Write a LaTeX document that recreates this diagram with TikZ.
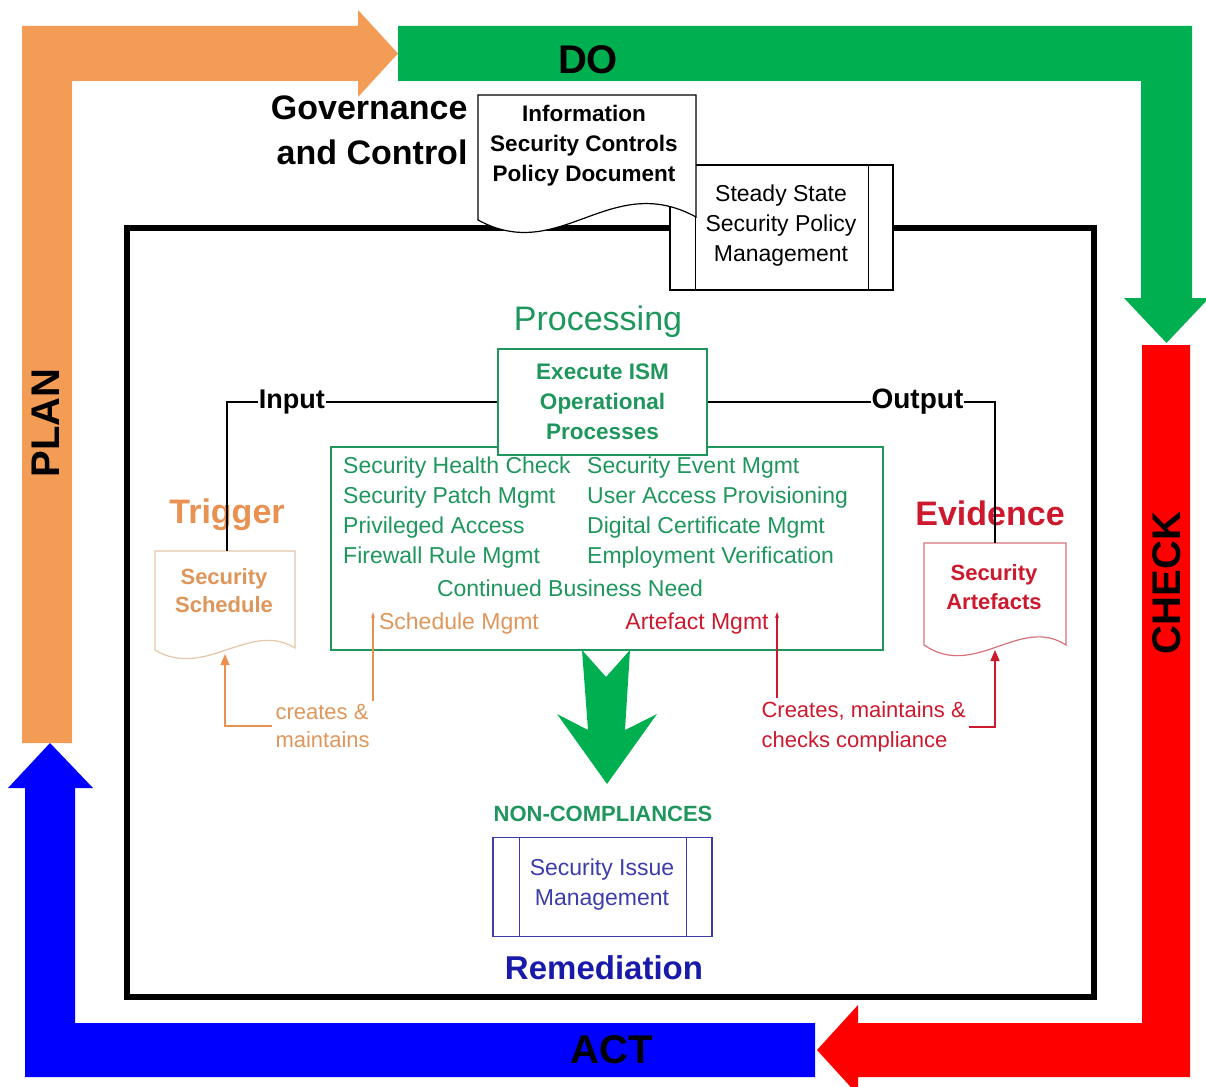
\documentclass[tikz,border=0pt]{standalone}
\usepackage{fontspec}
\setmainfont{Liberation Sans}
\usetikzlibrary{arrows.meta}

\definecolor{planorange}{RGB}{243,156,86}
\definecolor{dogreen}{RGB}{0,176,80}
\definecolor{checkred}{RGB}{255,0,0}
\definecolor{actblue}{RGB}{0,0,255}
\definecolor{procgreen}{RGB}{30,150,92}
\definecolor{trigorange}{RGB}{232,145,80}
\definecolor{schedtan}{RGB}{228,198,168}
\definecolor{schedtext}{RGB}{222,150,90}
\definecolor{evred}{RGB}{205,25,45}
\definecolor{artborder}{RGB}{215,115,120}
\definecolor{remblue}{RGB}{25,25,170}
\definecolor{issueblue}{RGB}{60,60,170}

\begin{document}
\begin{tikzpicture}[x=1pt, y=-1pt,
    pdca/.style={font=\fontsize{40}{40}\selectfont\bfseries},
    head/.style={font=\fontsize{34}{34}\selectfont\bfseries},
    body/.style={font=\fontsize{23}{30}\selectfont},
    item/.style={body, text=procgreen, anchor=west, inner sep=0pt},
    link/.style={line width=1.2pt},
    tip/.style={-{Triangle[length=11pt,width=9pt]}},
    smalltip/.style={-{Stealth[length=6pt,width=4pt]}},
  ]
  \useasboundingbox (0,0) rectangle (1206,1086);

  % PDCA arrows
  \fill[planorange] (22,743) -- (22,26) -- (358,26) -- (358,10) -- (398,53.5)
    -- (358,97) -- (358,81) -- (72,81) -- (72,743) -- cycle;
  \fill[dogreen] (398,26) -- (1192,26) -- (1192,298) -- (1209,298) -- (1166.5,343)
    -- (1124,298) -- (1141,298) -- (1141,81) -- (398,81) -- cycle;
  \fill[checkred] (1142,345) -- (1190,345) -- (1190,1077) -- (858,1077) -- (858,1095)
    -- (817,1050) -- (858,1005) -- (858,1023) -- (1142,1023) -- cycle;
  \fill[actblue] (815,1023) -- (815,1077) -- (25,1077) -- (25,788) -- (8,788)
    -- (50,743) -- (93,788) -- (75,788) -- (75,1023) -- cycle;
  \node[pdca] (do) at (588,60) {DO};
  \node[pdca, rotate=90] (plan) at (46,423) {PLAN};
  \node[pdca, rotate=90] (check) at (1167,583) {CHECK};
  \node[pdca] (act) at (612,1050) {ACT};

  % Frame
  \draw[line width=6pt] (127,228) rectangle (1094,997);

  % Governance
  \node[font=\fontsize{34}{45}\selectfont\bfseries, align=right, anchor=east] (gov) at (471,130) {Governance\\and Control};
  \node[draw, line width=1.2pt, fill=white, minimum width=223pt, minimum height=125pt] (ss) at (781.5,227.5) {};
  \draw[line width=1.2pt] ([xshift=26pt]ss.north west) -- ([xshift=26pt]ss.south west);
  \draw[line width=1.2pt] ([xshift=-25pt]ss.north east) -- ([xshift=-25pt]ss.south east);
  \node[font=\fontsize{23}{30}\selectfont, align=center] (sstext) at (781,226) {Steady State\\Security Policy\\Management};
  \draw[fill=white, line width=1.2pt] (478,220) -- (478,95) -- (696,95) -- (696,217)
    .. controls (610,170) and (560,265) .. (478,220) -- cycle;
  \node[font=\fontsize{22.5}{30}\selectfont\bfseries, align=center] (policy) at (584,146) {Information\\Security Controls\\Policy Document};

  % Processing
  \node[font=\fontsize{34}{34}\selectfont, text=procgreen] (proc) at (598,322) {Processing};
  \node[draw=procgreen, line width=2.5pt, minimum width=552pt, minimum height=203pt] (procs) at (607,548.5) {};
  \node[draw=procgreen, line width=1.5pt, fill=white, minimum width=209pt, minimum height=106pt,
    font=\fontsize{22.5}{30}\selectfont\bfseries, text=procgreen, align=center] (exec) at (602.5,402) {Execute ISM\\Operational\\Processes};
  \node[item] (shc) at (343,468) {Security Health Check};
  \node[item] (spm) at (343,498) {Security Patch Mgmt};
  \node[item] (pa) at (343,528) {Privileged Access};
  \node[item] (frm) at (343,558) {Firewall Rule Mgmt};
  \node[item] (sem) at (587,468) {Security Event Mgmt};
  \node[item] (uap) at (587,498) {User Access Provisioning};
  \node[item] (dcm) at (587,528) {Digital Certificate Mgmt};
  \node[item] (ev) at (587,558) {Employment Verification};
  \node[body, text=procgreen, inner sep=0pt] (cbn) at (570,588) {Continued Business Need};
  \node[body, text=schedtext, inner sep=0pt] (schm) at (459,624) {Schedule Mgmt};
  \node[body, text=evred, inner sep=0pt] (artm) at (697,624) {Artefact Mgmt};
  \coordinate (smtip) at (373,612);
  \coordinate (amtip) at (777,612);

  % Trigger
  \node[head, text=trigorange] (trig) at (227,515) {Trigger};
  \draw[schedtan, fill=white, line width=1.2pt] (155,650) -- (155,551) -- (295,551) -- (295,648)
    .. controls (250,620) and (205,680) .. (155,650) -- cycle;
  \node[font=\fontsize{22}{28}\selectfont\bfseries, text=schedtext, align=center] (sched) at (224,591) {Security\\Schedule};
  \coordinate (schedtop) at (227,551);
  \coordinate (schedbot) at (225,654);
  \node[font=\fontsize{22}{28}\selectfont, text=schedtext, align=left, anchor=west] (crt) at (272,726) {creates \&\\maintains};

  % Evidence
  \node[head, text=evred] (evid) at (990,513) {Evidence};
  \draw[artborder, fill=white, line width=1.2pt] (924,645) -- (924,543) -- (1066,543) -- (1066,645)
    .. controls (1020,615) and (975,680) .. (924,645) -- cycle;
  \node[font=\fontsize{22}{29}\selectfont\bfseries, text=evred, align=center] (art) at (994,587) {Security\\Artefacts};
  \coordinate (arttop) at (995,543);
  \coordinate (artbot) at (995,650);
  \node[font=\fontsize{22}{30}\selectfont, text=evred, align=left, anchor=west] (cmc) at (758,727) {Creates, maintains \&\\checks compliance};

  % Remediation
  \fill[dogreen] (582,650) -- (606,677) -- (630,650) -- (625,730) -- (657,714) -- (607,784)
    -- (557,714) -- (588,730) -- cycle;
  \node[font=\fontsize{22}{22}\selectfont\bfseries, text=procgreen] (nonc) at (603,814) {NON-COMPLIANCES};
  \node[draw=issueblue, line width=1.2pt, minimum width=219pt, minimum height=99pt] (sim) at (602.5,887) {};
  \draw[issueblue, line width=1.2pt] ([xshift=27pt]sim.north west) -- ([xshift=27pt]sim.south west);
  \draw[issueblue, line width=1.2pt] ([xshift=-26pt]sim.north east) -- ([xshift=-26pt]sim.south east);
  \node[body, text=issueblue, align=center] (simtext) at (602,885) {Security Issue\\Management};
  \node[font=\fontsize{33}{33}\selectfont\bfseries, text=remblue] (rem) at (604,968) {Remediation};

  % Edges
  \draw[link] (schedtop) |- node[pos=0.62, fill=white, inner sep=1pt, font=\fontsize{27}{27}\selectfont\bfseries] (inp) {Input} (exec.west);
  \draw[link] (exec.east) -| node[pos=0.365, fill=white, inner sep=1pt, font=\fontsize{28}{28}\selectfont\bfseries] (outp) {Output} (arttop);
  \draw[link, trigorange, tip] (crt.west) -| (schedbot);
  \draw[link, trigorange, smalltip] (crt.north -| smtip) -- (smtip);
  \draw[link, evred, tip] (cmc.east) -| (artbot);
  \draw[link, evred, smalltip] (cmc.north -| amtip) -- (amtip);
\end{tikzpicture}
\end{document}
